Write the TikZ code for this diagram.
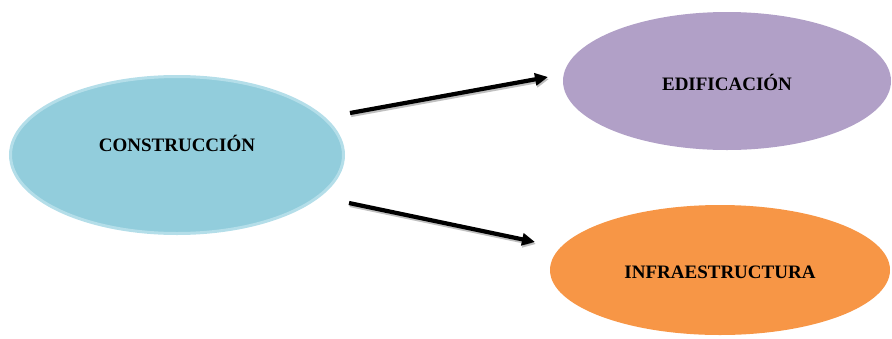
\documentclass[tikz,border=0pt]{standalone}
\usepackage{fontspec}
\setmainfont{Liberation Serif}
\usetikzlibrary{shapes.geometric,arrows.meta}
\definecolor{cblue}{HTML}{92CDDC}
\definecolor{cblueedge}{HTML}{B4DEE9}
\definecolor{cpurple}{HTML}{B1A0C7}
\definecolor{corange}{HTML}{F79646}
\definecolor{cshadow}{HTML}{8C8C8C}
\tikzset{
  bubble/.style={ellipse, inner sep=0pt},
  lbl/.style={font=\fontsize{19}{22}\selectfont\bfseries, text=black},
  conn/.style={line width=4.2pt, -{Triangle[length=13pt,width=12pt]}, black},
  connshadow/.style={line width=4.2pt, -{Triangle[length=13pt,width=12pt]}, cshadow, opacity=0.55}
}
\begin{document}
\begin{tikzpicture}[x=1pt,y=-1pt]
\useasboundingbox (0,0) rectangle (892,338);
\node[bubble, fill=cblue, draw=cblueedge, line width=3pt, minimum width=333pt, minimum height=157pt,
  label={[lbl, yshift=12pt]center:CONSTRUCCIÓN}] (c) at (177,155) {};
\node[bubble, fill=cpurple, minimum width=328pt, minimum height=138pt,
  label={[lbl, yshift=-1pt]center:EDIFICACIÓN}] (e) at (727,81) {};
\node[bubble, fill=corange, minimum width=340pt, minimum height=130pt,
  label={[lbl, yshift=-2pt]center:INFRAESTRUCTURA}] (i) at (720,270) {};
\coordinate (a1s) at (350,113);
\coordinate (a1e) at (548,77);
\coordinate (a2s) at (349,203);
\coordinate (a2e) at (535,242);
\draw[connshadow, transform canvas={shift={(1pt,-2pt)}}] (a1s) -- (a1e);
\draw[connshadow, transform canvas={shift={(1pt,-2pt)}}] (a2s) -- (a2e);
\draw[conn] (a1s) -- (a1e);
\draw[conn] (a2s) -- (a2e);
\end{tikzpicture}
\end{document}
